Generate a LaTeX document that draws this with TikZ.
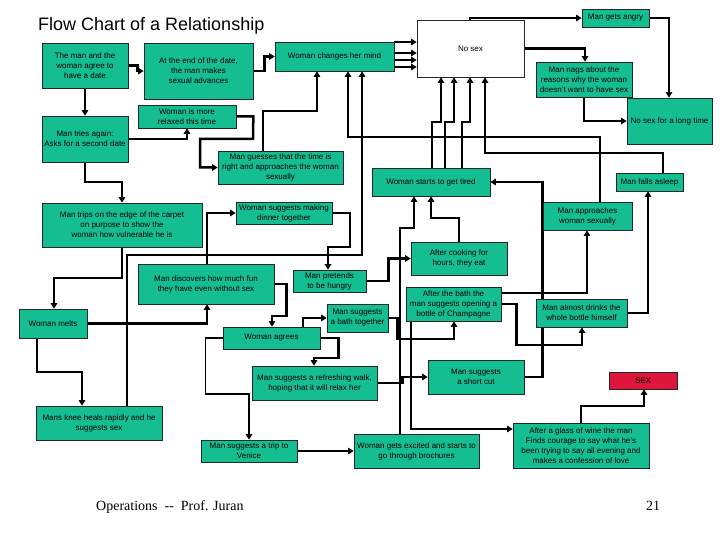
\documentclass[tikz,border=0pt]{standalone}
\usepackage{fontspec}
\setmainfont{Liberation Sans}
\newfontfamily\footfont{Liberation Serif}
\usetikzlibrary{arrows.meta}
\definecolor{boxgreen}{RGB}{20,190,145}
\definecolor{sexred}{RGB}{222,22,60}
\pgfdeclarelayer{bg}
\pgfsetlayers{bg,main}
\newcommand\fcbox[7][gbox]{\node[#1,minimum width={(#5)-(#3)},minimum height={(#6)-(#4)}] (#2) at ({((#3)+(#5))/2},{((#4)+(#6))/2}) {#7};}
\begin{document}
\begin{tikzpicture}[x=1pt,y=-1pt,
  gbox/.style={draw=black!85,line width=0.7pt,fill=boxgreen,inner sep=0pt,align=center,font=\fontsize{8}{10}\selectfont},
  wbox/.style={gbox,fill=white},
  rbox/.style={gbox,fill=sexred},
  arr/.style={line width=2.5pt,-{Triangle[length=5.5pt,width=6.5pt]}},
  thinarr/.style={line width=1.3pt,-{Triangle[length=5.5pt,width=6.5pt]}}]
\useasboundingbox (0,0) rectangle (720,540);

\node[anchor=base west,font=\fontsize{18}{20}\selectfont,inner sep=0pt] (title) at (38,30.5) {Flow Chart of a Relationship};
\node[anchor=base west,font=\footfont\fontsize{14}{16}\selectfont,inner sep=0pt] (foot) at (96,510) {Operations\ \ -{}-\ \ Prof. Juran};
\node[anchor=base west,font=\footfont\fontsize{14}{16}\selectfont,inner sep=0pt] (page) at (646,510) {21};

\fcbox{date}{42}{43}{128}{88}{The man and the\\woman agree to\\have a date}
\fcbox{adv}{144}{43}{253}{99}{At the end of the date,\\the man makes\\sexual advances}
\fcbox{mind}{275}{42}{394}{71}{Woman changes her mind}
\fcbox[wbox]{nosex}{417}{20}{524}{77}{No sex}
\fcbox{angry}{582}{9}{649}{27}{Man gets angry}
\fcbox{nags}{536}{62}{632}{97}{Man nags about the\\reasons why the woman\\doesn't want to have sex}
\fcbox{long}{627}{98}{712}{144}{No sex for a long time}
\fcbox{relax}{138}{105}{236}{128}{Woman is more\\relaxed this time}
\fcbox{again}{42}{116}{128}{162}{Man tries again:\\Asks for a second date}
\fcbox{guess}{218}{151}{343}{184}{Man guesses that the time is\\right and approaches the woman\\sexually}
\fcbox{trips}{42}{203}{202}{247}{Man trips on the edge of the carpet\\on purpose to show the\\woman how vulnerable he is}
\fcbox{dinner}{236}{202}{332}{224}{Woman suggests making\\dinner together}
\fcbox{tired}{372}{168}{490}{196}{Woman starts to get tired}
\fcbox{asleep}{616}{173}{683}{191}{Man falls asleep}
\fcbox{appr}{543}{202}{632}{230}{Man approaches\\woman sexually}
\fcbox{eat}{411}{242}{507}{275}{After cooking for\\hours, they eat}
\fcbox{fun}{138}{264}{274}{304}{Man discovers how much fun\\they have even without sex}
\fcbox{hungry}{293}{270}{366}{292}{Man pretends\\to be hungry}
\fcbox{bath}{327}{304}{388}{332}{Man suggests\\a bath together}
\fcbox{melts}{19}{309}{87}{338}{Woman melts}
\fcbox{agrees}{223}{327}{320}{349}{Woman agrees}
\fcbox{champ}{406}{287}{501}{321}{After the bath the\\man suggests opening a\\bottle of Champagne}
\fcbox{drinks}{536}{299}{627}{327}{Man almost drinks the\\whole bottle himself}
\fcbox{walk}{252}{366}{377}{400}{Man suggests a refreshing walk,\\hoping that it will relax her}
\fcbox{shortcut}{428}{360}{524}{394}{Man suggests\\a short cut}
\fcbox[rbox]{sex}{609}{372}{677}{389}{SEX}
\fcbox{knee}{36}{406}{162}{440}{Mans knee heals rapidly and he\\suggests sex}
\fcbox{venice}{201}{440}{297}{462}{Man suggests a trip to\\Venice}
\fcbox{excited}{354}{434}{479}{468}{Woman gets excited and starts to\\go through brochures}
\fcbox{wine}{513}{423}{649}{468}{After a glass of wine the man\\Finds courage to say what he's\\been trying to say all evening and\\makes a confession of love}

\begin{pgfonlayer}{bg}
\fill[white] (0,0) rectangle (720,540);
\draw[arr] (date.east) -- ++(9,0) |- (adv.west);
\draw[arr] (adv.east) -- ++(11,0) |- (mind.west);
\draw[arr] (date.south) -- (again.north);
\draw[arr] (again.east) -| (relax.south -| 187,0);
\draw[arr] (relax.east) -- ++(17,0) -- (253,139) -- (200,139) |- (guess.west);
\draw[arr] (guess.north -| 263,0) |- (317,111) -- (mind.south -| 317,0);
\draw[arr] (appr.north -| 600,0) |- (348,137) -- (mind.south -| 348,0);
\draw[arr] (knee.north -| 127,0) |- (362,255) -- (mind.south -| 362,0);
\foreach \yy in {42,53,60,67}{
  \draw[line width=2.2pt,-{Triangle[length=5.5pt,width=6.5pt]}] (mind.east |- 0,\yy) -- (nosex.west |- 0,\yy);
}
\draw[arr] (tired.north -| 432,0) |- (441,122) -- (nosex.south -| 441,0);
\draw[arr] (tired.north -| 445,0) |- (454,122) -- (nosex.south -| 454,0);
\draw[arr] (tired.north -| 462,0) |- (470,122) -- (nosex.south -| 470,0);
\draw[arr] (asleep.north -| 663,0) |- (485,153) -- (nosex.south -| 485,0);
\draw[arr] (nosex.north -| 470,0) |- (angry.west);
\draw[arr] (nosex.east) -| (nags.north -| 585,0);
\draw[arr] (angry.east) -| (long.north -| 669,0);
\draw[arr] (nags.south -| 584,0) |- (long.west);
\draw[arr] (drinks.east) -| (asleep.south -| 648,0);
\draw[arr] (champ.east |- 0,293) -| (appr.south -| 587,0);
\draw[arr] (champ.east) -- ++(15,0) |- (582,345) -- (drinks.south -| 582,0);
\draw[arr] (shortcut.east) -- ++(18,0) |- (tired.east);
\draw[arr] (eat.north -| 459,0) |- (431,218) -- (tired.south -| 431,0);
\draw[arr] (excited.north -| 400,0) |- (414,228) -- (tired.south -| 414,0);
\draw[arr] (hungry.east) -- ++(22,0) |- (eat.west);
\draw[arr] (dinner.east) -| (350,247) -| (hungry.north -| 328,0);
\draw[arr] (fun.north -| 207,0) |- (dinner.west);
\draw[arr] (again.south) |- (122,182) -- (trips.north -| 122,0);
\draw[arr] (trips.south -| 122,0) |- (54,278) -- (melts.north -| 54,0);
\draw[arr] (melts.east) -| (fun.south -| 207,0);
\draw[arr] (melts.south -| 37,0) |- (82,372) -- (knee.north -| 82,0);
\draw[arr] (fun.east) -- ++(12,0) |- (272,316) -- (agrees.north -| 272,0);
\draw[arr] (agrees.north -| 303,0) |- (bath.west);
\draw[arr] (bath.east) -- ++(9,0) |- (454,339) -- (champ.south -| 454,0);
\draw[arr] (agrees.east) -- ++(18,0) |- (314,358) -- (walk.north -| 314,0);
\draw[thinarr] (agrees.west) -- ++(-17,0) |- (249,394) -- (venice.north -| 249,0);
\draw[arr] (walk.east) -- ++(25,0) |- (shortcut.west);
\draw[arr] (venice.east) -- (excited.west);
\draw[arr] (champ.south -| 411,0) |- (wine.west |- 0,429);
\draw[arr] (wine.north -| 581,0) |- (644,406) -- (sex.south -| 644,0);
\end{pgfonlayer}
\end{tikzpicture}
\end{document}
